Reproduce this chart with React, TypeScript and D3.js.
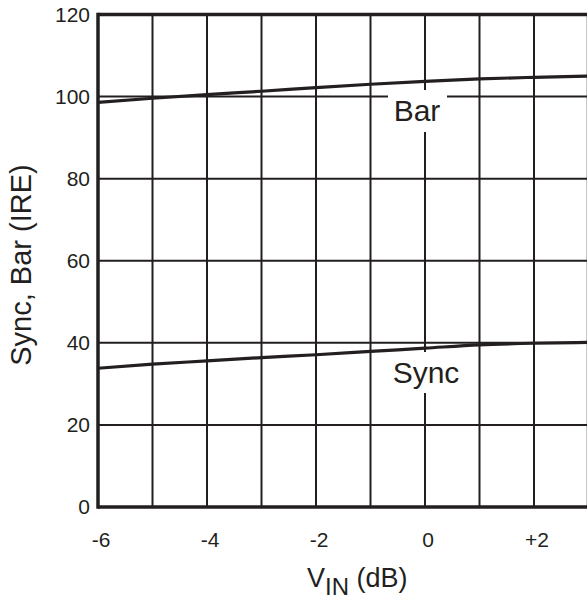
import React from "react";
import * as d3 from "d3";

const vin = [-6, -5, -4, -3, -2, -1, 0, 1, 2, 3];
const barValues = [98.6, 99.6, 100.5, 101.3, 102.2, 103.0, 103.7, 104.3, 104.7, 105.0];
const syncValues = [33.8, 34.8, 35.6, 36.4, 37.1, 37.9, 38.7, 39.5, 39.9, 40.1];
const xTicks = [-6, -4, -2, 0, 2];
const xTickLabels = ["-6", "-4", "-2", "0", "+2"];
const yTicks = [0, 20, 40, 60, 80, 100, 120];
const xGrid = [-5, -4, -3, -2, -1, 0, 1, 2];
const yGrid = [20, 40, 60, 80, 100];

const W = 587;
const H = 599;
const ink = "#231f20";
const font = "'Liberation Sans', Arial, Helvetica, sans-serif";

export default function App() {
  const x = d3.scaleLinear().domain([-6, 3]).range([98, 588.5]);
  const y = d3.scaleLinear().domain([0, 120]).range([507, 14.5]);
  const line = d3
    .line<number>()
    .x((_, i) => x(vin[i]))
    .y((d) => y(d))
    .curve(d3.curveMonotoneX);

  const x0 = x(-6);
  const x1 = x(3);
  const yb = y(0);
  const yt = y(120);

  return (
    <svg
      width={W}
      height={H}
      style={{ position: "absolute", left: 0, top: 0, background: "#fff" }}
      fontFamily={font}
    >
      <rect x={0} y={0} width={W} height={H} fill="#fff" />
      {xGrid.map((v) => (
        <line key={"gx" + v} x1={x(v)} x2={x(v)} y1={yt} y2={yb} stroke={ink} strokeWidth={2} />
      ))}
      {yGrid.map((v) => (
        <line key={"gy" + v} x1={x0} x2={x1} y1={y(v)} y2={y(v)} stroke={ink} strokeWidth={2} />
      ))}
      <rect x={388} y={90} width={59} height={42} fill="#fff" />
      <rect x={385} y={352} width={82} height={41} fill="#fff" />
      <text x={417} y={121} fontSize={30} textAnchor="middle" fill={ink}>
        Bar
      </text>
      <text x={426} y={383} fontSize={30} textAnchor="middle" fill={ink}>
        Sync
      </text>
      <path d={line(barValues) || ""} fill="none" stroke={ink} strokeWidth={3.2} />
      <path d={line(syncValues) || ""} fill="none" stroke={ink} strokeWidth={3.2} />
      <line x1={x0} x2={x1} y1={yt} y2={yt} stroke={ink} strokeWidth={3.5} />
      <line x1={x0} x2={x1} y1={yb} y2={yb} stroke={ink} strokeWidth={3.5} />
      <line x1={x0} x2={x0} y1={yt - 1.75} y2={yb + 1.75} stroke={ink} strokeWidth={3.5} />
      <line x1={x1} x2={x1} y1={yt} y2={yb} stroke={ink} strokeWidth={3.5} />
      {yTicks.map((v) => (
        <text key={"yt" + v} x={90} y={y(v) + 7} fontSize={21} textAnchor="end" fill={ink}>
          {v}
        </text>
      ))}
      {xTicks.map((v, i) => (
        <text key={"xt" + v} x={x(v) + 3} y={547} fontSize={21} textAnchor="middle" fill={ink}>
          {xTickLabels[i]}
        </text>
      ))}
      <text
        transform={`translate(31,265) rotate(-90)`}
        fontSize={29}
        textAnchor="middle"
        fill={ink}
      >
        Sync, Bar (IRE)
      </text>
      <text x={307} y={587} fontSize={27} fill={ink}>
        V
        <tspan fontSize={24} dy={8}>IN</tspan>
        <tspan fontSize={27} dy={-8}> (dB)</tspan>
      </text>
    </svg>
  );
}
